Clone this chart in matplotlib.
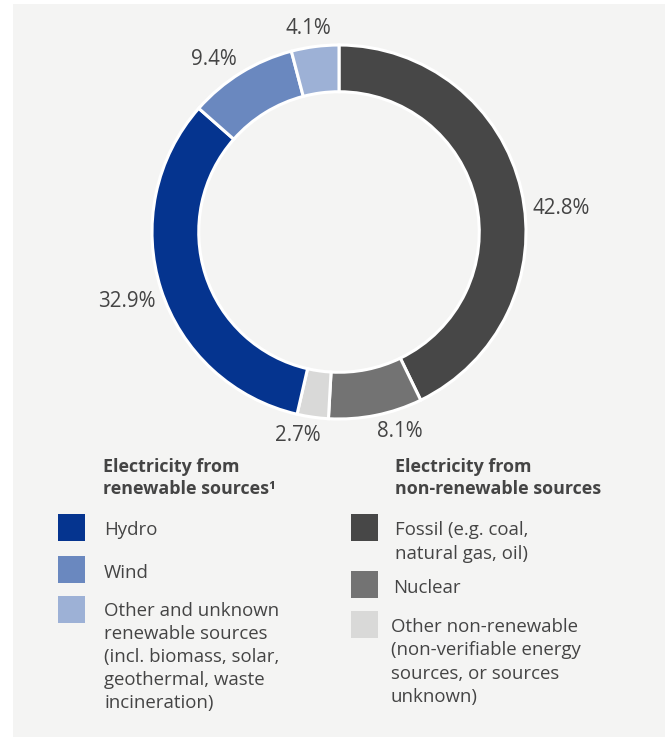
import matplotlib
matplotlib.use("Agg")
import matplotlib.pyplot as plt
from matplotlib.patches import Rectangle

plt.rcParams['font.family'] = ['Open Sans', 'DejaVu Sans']

# ---- data ----
categories = ["Fossil", "Nuclear", "Other non-renewable", "Hydro", "Wind", "Other renewable"]
values = [42.8, 8.1, 2.7, 32.9, 9.4, 4.1]
colors = ["#474747", "#737373", "#d9d9d8", "#05348f", "#6a88bf", "#9db1d6"]
value_labels = ["42.8%", "8.1%", "2.7%", "32.9%", "9.4%", "4.1%"]
# label positions in data units (relative to unit-radius ring)
label_pos = [(1.187, 0.128), (0.326, -1.065), (-0.219, -1.09), (-1.135, -0.374), (-0.668, 0.92), (-0.166, 1.09)]

left_heading = "Electricity from\nrenewable sources\u00b9"
right_heading = "Electricity from\nnon-renewable sources"
left_items = ["Hydro", "Wind", "Other and unknown\nrenewable sources\n(incl. biomass, solar,\ngeothermal, waste\nincineration)"]
left_colors = ["#05348f", "#6a88bf", "#9db1d6"]
right_items = ["Fossil (e.g. coal,\nnatural gas, oil)", "Nuclear", "Other non-renewable\n(non-verifiable energy\nsources, or sources\nunknown)"]
right_colors = ["#474747", "#737373", "#d9d9d8"]

W, H = 670, 737
TXT = "#444444"
fig = plt.figure(figsize=(W / 100, H / 100), dpi=100, facecolor="white")

def fx(px):
    return px / W

def fy(py):
    return 1 - py / H

# panel background
fig.patches.append(Rectangle((fx(13), fy(737)), fx(665) - fx(13), fy(4) - fy(737),
                             transform=fig.transFigure, facecolor="#f4f4f3", edgecolor="none", zorder=-5))

# donut
cx, cy, R = 339, 232, 187
ax = fig.add_axes([fx(cx - R), fy(cy + R), 2 * R / W, 2 * R / H])
ax.set_zorder(2)
ax.set_facecolor("none")
ax.pie(values, colors=colors, startangle=90, counterclock=False, radius=1.0,
       wedgeprops=dict(width=0.25, edgecolor="white", linewidth=2.2))
ax.set_xlim(-1, 1)
ax.set_ylim(-1, 1)
ax.set_aspect("equal")
ax.axis("off")
for lab, (x, y) in zip(value_labels, label_pos):
    ax.text(x, y, lab, ha="center", va="center", fontsize=14.8, color=TXT, clip_on=False)

# legend
fs = 13.4
fsh = 12.9
ls = 1.37
fig.text(fx(103), fy(478), left_heading, ha="left", va="center", fontsize=fsh, fontweight="bold",
         color=TXT, linespacing=1.3)
fig.text(fx(395), fy(478), right_heading, ha="left", va="center", fontsize=fsh, fontweight="bold",
         color=TXT, linespacing=1.3)

left_sq_top = [514, 556, 596]
left_txt_c = [530, 573, 657]
for c, t, top, tc in zip(left_colors, left_items, left_sq_top, left_txt_c):
    fig.patches.append(Rectangle((fx(58), fy(top + 27)), 27 / W, 27 / H, transform=fig.transFigure,
                                 facecolor=c, edgecolor="none", zorder=1))
    fig.text(fx(104), fy(tc), t, ha="left", va="center", fontsize=fs, color=TXT, linespacing=ls)

right_sq_top = [514, 571, 611]
right_txt_c = [542, 588, 662]
right_txt_x = [395, 393, 391]
for c, t, top, tc, tx in zip(right_colors, right_items, right_sq_top, right_txt_c, right_txt_x):
    fig.patches.append(Rectangle((fx(351), fy(top + 27)), 27 / W, 27 / H, transform=fig.transFigure,
                                 facecolor=c, edgecolor="none", zorder=1))
    fig.text(fx(tx), fy(tc), t, ha="left", va="center", fontsize=fs, color=TXT, linespacing=ls)

fig.savefig("out.png", dpi=100, facecolor="white")
